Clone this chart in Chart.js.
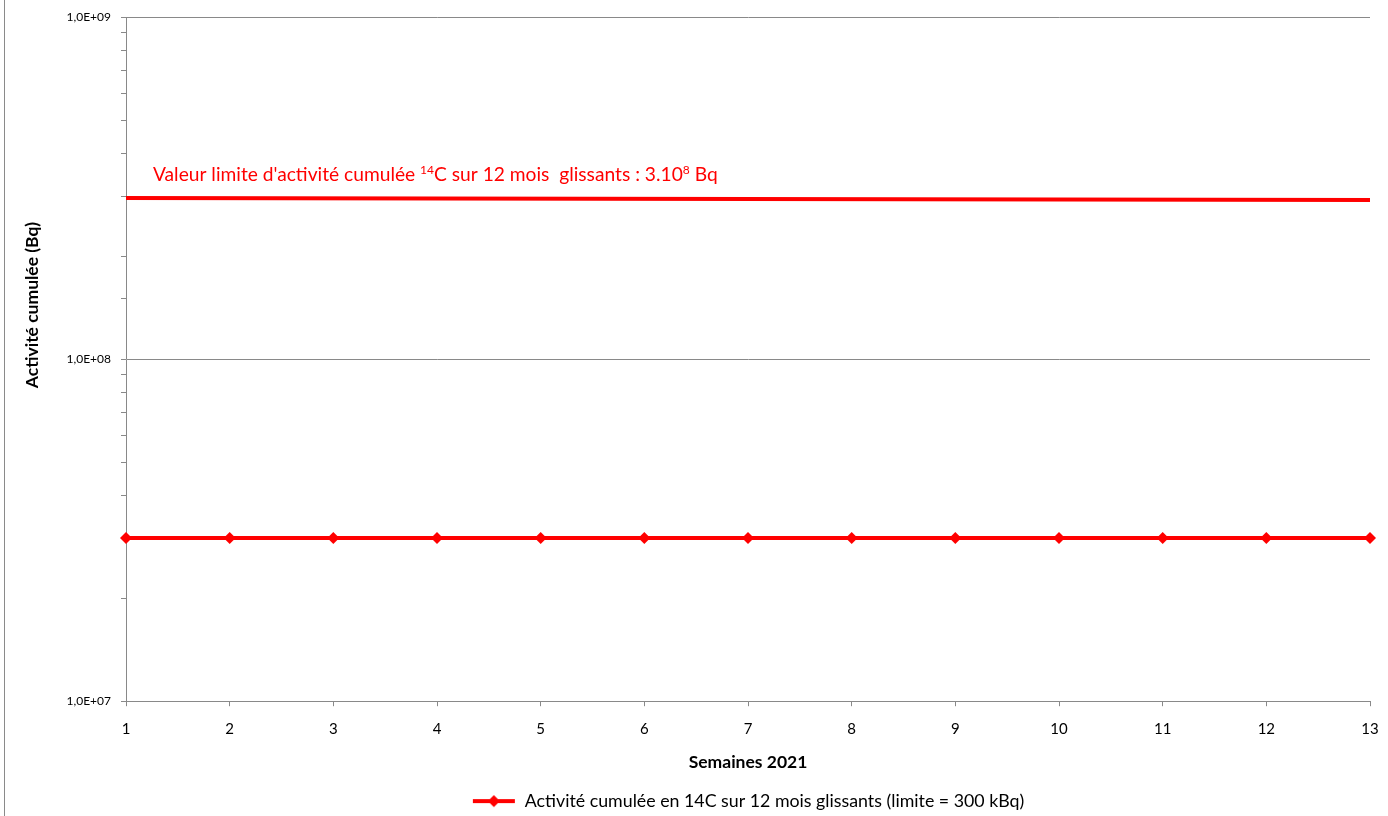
<!DOCTYPE html>
<html>
<head>
<meta charset="utf-8">
<script src="https://cdn.jsdelivr.net/npm/chart.js@4.4.1/dist/chart.umd.min.js"></script>
<style>
  html, body { margin: 0; padding: 0; background: #fff; }
  #wrap { position: relative; width: 1388px; height: 816px; }
  #edge { position: absolute; left: 4px; top: 0; width: 1px; height: 816px; background: #8a8a8a; }
</style>
</head>
<body>
<div id="wrap">
  <canvas id="c" width="1388" height="816"></canvas>
  <div id="edge"></div>
</div>
<script>
// ---- data ----
const weeks = ['1','2','3','4','5','6','7','8','9','10','11','12','13'];
const activite = [3.0e7, 3.0e7, 3.0e7, 3.0e7, 3.0e7, 3.0e7, 3.0e7, 3.0e7, 3.0e7, 3.0e7, 3.0e7, 3.0e7, 3.0e7];
const limiteWeeks = ['1', '13'];
const limiteValues = [2.96e8, 2.92e8];
const seriesLabel = 'Activité cumulée en 14C sur 12 mois glissants (limite = 300 kBq)';
const yTitle = 'Activité cumulée (Bq)';
const xTitle = 'Semaines 2021';
const yMin = 1e7, yMax = 1e9;

const FONT = 'Lato, "Open Sans", "Liberation Sans", sans-serif';
const RED = '#ff0000';
const AXIS = '#898989';

// legend icon: line with diamond
const icon = document.createElement('canvas');
icon.width = 44; icon.height = 14;
(function(){
  const g = icon.getContext('2d');
  g.strokeStyle = RED; g.lineWidth = 4;
  g.beginPath(); g.moveTo(1, 7); g.lineTo(43, 7); g.stroke();
  g.fillStyle = RED;
  g.beginPath(); g.moveTo(22, 1); g.lineTo(28, 7); g.lineTo(22, 13); g.lineTo(16, 7); g.closePath(); g.fill();
})();

function isMajor(v) {
  const l = Math.log10(v);
  return Math.abs(l - Math.round(l)) < 1e-9;
}

const extras = {
  id: 'extras',
  afterDatasetsDraw(chart) {
    const ctx = chart.ctx;
    // limit annotation text
    const x0 = chart.scales.x.getPixelForValue(0) + 27;
    const y0 = chart.scales.y.getPixelForValue(3e8) - 15;
    const parts = [
      ['Valeur limite d\'activité cumulée ', 19.2, 0],
      ['14', 12, -7],
      ['C sur 12 mois  glissants : 3.10', 19.2, 0],
      ['8', 12, -7],
      [' Bq', 19.2, 0]
    ];
    ctx.save();
    ctx.fillStyle = RED;
    ctx.textBaseline = 'alphabetic';
    ctx.textAlign = 'left';
    let x = x0;
    for (const [t, s, dy] of parts) {
      ctx.font = s + 'px ' + FONT;
      ctx.fillText(t, x, y0 + dy);
      x += ctx.measureText(t).width;
    }
    ctx.restore();
  },
  afterDraw(chart) {
    // y axis title
    const ctx = chart.ctx;
    ctx.save();
    ctx.translate(32, 305);
    ctx.rotate(-Math.PI / 2);
    ctx.font = 'bold 17.5px ' + FONT;
    ctx.fillStyle = '#000';
    ctx.textAlign = 'center';
    ctx.textBaseline = 'middle';
    ctx.fillText(yTitle, 0, 0);
    ctx.restore();
  }
};

new Chart(document.getElementById('c'), {
  type: 'line',
  data: {
    labels: weeks,
    datasets: [
      {
        label: seriesLabel,
        data: activite,
        borderColor: RED,
        backgroundColor: RED,
        borderWidth: 4,
        pointStyle: 'rectRot',
        pointRadius: 6,
        pointHoverRadius: 6,
        pointBackgroundColor: RED,
        pointBorderColor: RED,
        pointBorderWidth: 0,
        tension: 0
      },
      {
        label: 'limite',
        data: limiteWeeks.map((w, i) => ({x: w, y: limiteValues[i]})),
        borderColor: RED,
        backgroundColor: RED,
        borderWidth: 4,
        pointRadius: 0,
        tension: 0
      }
    ]
  },
  options: {
    responsive: false,
    animation: false,
    layout: { padding: { left: 0, right: 18, top: 17, bottom: -4 } },
    plugins: {
      tooltip: { enabled: false },
      legend: {
        position: 'bottom',
        fullSize: false,
        labels: {
          usePointStyle: true,
          pointStyleWidth: 44,
          generateLabels: (chart) => [{
            text: seriesLabel,
            pointStyle: icon,
            fillStyle: RED,
            strokeStyle: RED,
            lineWidth: 0,
            datasetIndex: 0,
            fontColor: '#000'
          }],
          font: { family: FONT, size: 17.8 },
          color: '#000',
          padding: 1
        }
      }
    },
    scales: {
      x: {
        type: 'category',
        offset: false,
        border: { display: true, color: AXIS, width: 1 },
        grid: { drawOnChartArea: false, drawTicks: true, tickLength: 5, tickColor: AXIS },
        ticks: { color: '#000', font: { family: FONT, size: 15 }, padding: 14, maxRotation: 0, autoSkip: false },
        title: { display: true, text: xTitle, color: '#000', font: { family: FONT, size: 17.5, weight: 'bold' }, padding: { top: 4, bottom: 18 } },
        afterFit: (s) => { s.height = 90; s.paddingLeft = 0; s.paddingRight = 0; }
      },
      y: {
        type: 'logarithmic',
        min: yMin,
        max: yMax,
        border: { display: true, color: AXIS, width: 1 },
        grid: {
          color: (c) => (c.tick && isMajor(c.tick.value)) ? AXIS : 'rgba(0,0,0,0)',
          tickColor: AXIS,
          tickLength: 5,
          lineWidth: 1
        },
        ticks: {
          autoSkip: false,
          color: '#000',
          font: { family: FONT, size: 12 },
          padding: 10,
          callback: (v) => isMajor(v) ? '1,0E+' + String(Math.round(Math.log10(v))).padStart(2, '0') : ''
        },
        title: { display: false, text: yTitle },
        afterFit: (s) => { s.width = 126; }
      }
    }
  },
  plugins: [extras]
});
</script>
</body>
</html>
